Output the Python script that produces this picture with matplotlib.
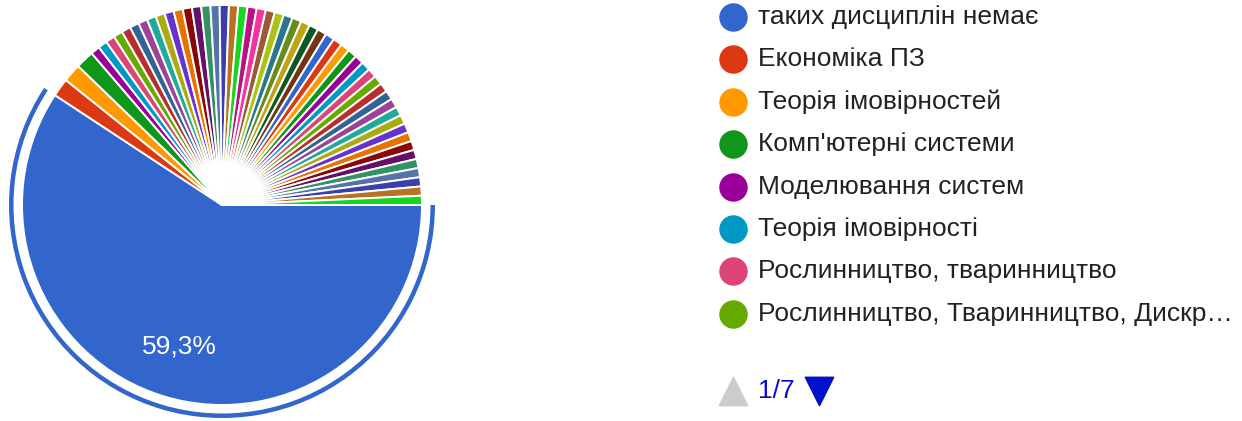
import matplotlib
matplotlib.use('Agg')
import matplotlib.pyplot as plt
from matplotlib.patches import Wedge

plt.rcParams['font.family'] = ['Liberation Sans', 'DejaVu Sans']

# кількість відповідей на кожен варіант (53 варіанти, 7 сторінок легенди)
counts = [80, 2, 2, 2, 1, 1, 1, 1, 1, 1,
          1, 1, 1, 1, 1, 1, 1, 1, 1, 1,
          1, 1, 1, 1, 1, 1, 1, 1, 1, 1,
          1, 1, 1, 1, 1, 1, 1, 1, 1, 1,
          1, 1, 1, 1, 1, 1, 1, 1, 1, 1,
          1, 1, 1]

# перша сторінка легенди
page_labels = ['таких дисциплін немає',
               'Економіка ПЗ',
               'Теорія імовірностей',
               "Комп'ютерні системи",
               'Моделювання систем',
               'Теорія імовірності',
               'Рослинництво, тваринництво',
               'Рослинництво, Тваринництво, Дискр…']
page_text = '1/7'

# стандартна палітра google charts
palette = ['#3366cc', '#dc3912', '#ff9900', '#109618', '#990099', '#0099c6',
           '#dd4477', '#66aa00', '#b82e2e', '#316395', '#994499', '#22aa99',
           '#aaaa11', '#6633cc', '#e67300', '#8b0707', '#651067', '#329262',
           '#5574a6', '#3b3eac', '#b77322', '#16d620', '#b91383', '#f4359e',
           '#9c5935', '#a9c413', '#2a778d', '#668d1c', '#bea413', '#0c5922',
           '#743411']
colors = [palette[i % len(palette)] for i in range(len(counts))]

W, H = 1242, 421
fig = plt.figure(figsize=(W / 100, H / 100), dpi=100)
ax = fig.add_axes([0, 0, 1, 1])

cx, cy, r = 222, 216, 200


def pct_label(p):
    '''підпис тільки для найбільшого сектора'''
    if p < 10:
        return ''
    return ('%.1f%%' % p).replace('.', ',')


wedges, texts, autotexts = ax.pie(counts, colors=colors, startangle=0,
                                  counterclock=False, center=(cx, cy),
                                  radius=r, autopct=pct_label,
                                  pctdistance=0.74, frame=True,
                                  wedgeprops={'edgecolor': 'white',
                                              'linewidth': 1.4})
for t in autotexts:
    t.set_color('white')
    t.set_fontsize(19)

# кільце навколо виділеного сектора
w0 = wedges[0]
ax.add_patch(Wedge((cx, cy), r + 13, w0.theta1, w0.theta2, width=4.5,
                   facecolor=palette[0], edgecolor='none'))

# легенда
lx, ly0, step = 733, H - 17, 42.4
for i, lab in enumerate(page_labels):
    y = ly0 - i * step
    ax.scatter([lx], [y], s=380, color=colors[i], zorder=3)
    ax.text(lx + 25, y, lab, fontsize=19, color='#222222',
            va='center', ha='left')

# перемикач сторінок
py = H - 391
ax.scatter([lx], [py], s=420, marker='^', color='#cccccc')
ax.text(lx + 25, py, page_text, fontsize=19, color='#0b0bd0',
        va='center', ha='left')
ax.scatter([lx + 86], [py], s=420, marker='v', color='#0011cc')

ax.set_xlim(0, W)
ax.set_ylim(0, H)
ax.set_aspect('equal')
ax.axis('off')

fig.savefig('out.png', dpi=100, facecolor='white')
